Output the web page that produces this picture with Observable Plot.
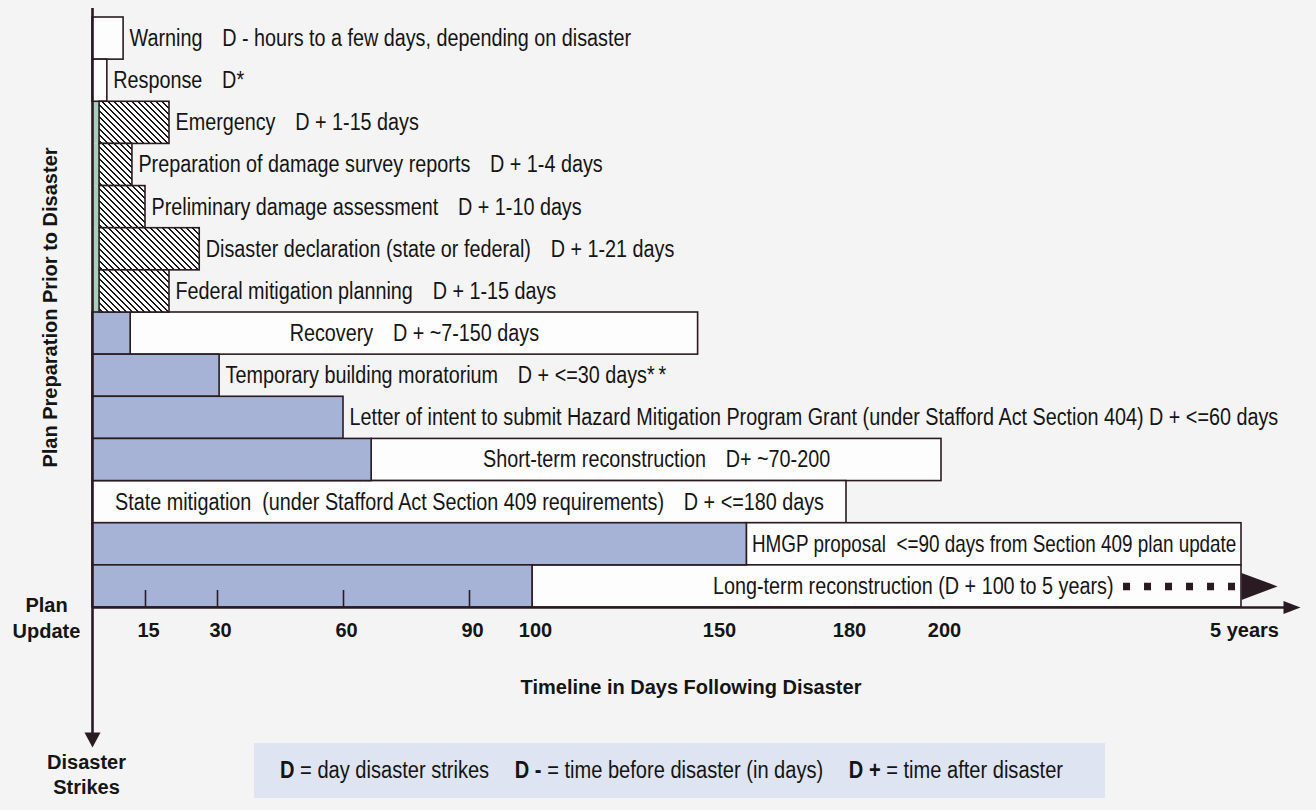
<!DOCTYPE html>
<html>
<head>
<meta charset="utf-8">
<script src="https://cdn.jsdelivr.net/npm/d3@7"></script>
<script src="https://cdn.jsdelivr.net/npm/@observablehq/plot@0.6"></script>
<style>
  html, body { margin: 0; padding: 0; background: #f4f4f4; }
  #wrap { position: relative; width: 1316px; height: 810px; overflow: hidden;
          font-family: "Liberation Sans", Arial, sans-serif; }
  #legend { position: absolute; left: 254px; top: 743px; width: 851px; height: 55px;
            background: #dee4f1; display: flex; align-items: center; box-sizing: border-box;
            padding-left: 26px; font-size: 23px; color: #141414; white-space: pre; overflow: hidden; }
  #legend span { display: inline-block; transform-origin: 0 50%; }
  #legend b { font-weight: bold; }
</style>
</head>
<body>
<div id="wrap"></div>
<script>
// ---------------- data ----------------
const phases = [
  "Warning", "Response", "Emergency", "Preparation of damage survey reports",
  "Preliminary damage assessment", "Disaster declaration", "Federal mitigation planning",
  "Recovery", "Temporary building moratorium", "Letter of intent", "Short-term reconstruction",
  "State mitigation", "HMGP proposal", "Long-term reconstruction"
];
const labels = [
  "Warning\u2003D - hours to a few days, depending on disaster",
  "Response\u2003D*",
  "Emergency\u2003D + 1-15 days",
  "Preparation of damage survey reports\u2003D + 1-4 days",
  "Preliminary damage assessment\u2003D + 1-10 days",
  "Disaster declaration (state or federal)\u2003D + 1-21 days",
  "Federal mitigation planning\u2003D + 1-15 days",
  "Recovery\u2003D + ~7-150 days",
  "Temporary building moratorium\u2003D + <=30 days*\u2009*",
  "Letter of intent to submit Hazard Mitigation Program Grant (under Stafford Act Section 404) D + <=60 days",
  "Short-term reconstruction\u2003D+ ~70-200",
  "State mitigation\u00a0\u00a0(under Stafford Act Section 409 requirements)\u2003D + <=180 days",
  "HMGP proposal\u00a0\u00a0<=90 days from Section 409 plan update",
  "Long-term reconstruction (D + 100 to 5 years)"
];
// where each label sits: after the bar, centred in the open box, or at the box end
const labelPlace = ["after","after","after","after","after","after","after",
                    "center","after","after","center","center","center","end"];
// plan-preparation (blue) bars, from day 0 to planEnd
const planEnd    = [null, null, null, null, null, null, null, 10.8, 30.5, 60, 66.7, null, 157, 100];
// hatched bars
const hatchStart = [null, null, 2, 2, 2, 2, 2, null, null, null, null, null, null, null];
const hatchEnd   = [null, null, 20, 11.3, 15, 26.3, 20, null, null, null, null, null, null, null];
// open (white) boxes
const boxStart   = [0, 0, null, null, null, null, null, 10.8, null, null, 66.7, 0, 157, 100];
const boxEnd     = [8.8, 4.2, null, null, null, null, null, 145, null, null, 200, 180, 1825, 1825];
// continuation dashes of long-term reconstruction
const dashFrom = 1186, dashTo = 1800;

// schematic (piecewise) day axis
const xBreaks   = [0, 15, 30, 60, 90, 100, 150, 180, 200, 1825];
const xPixels   = [92, 145, 217, 343, 469, 532, 716, 846, 941, 1241];
const tickValues = [15, 30, 60, 90, 100, 150, 180, 200, 1825];
const tickLabels = ["15", "30", "60", "90", "100", "150", "180", "200", "5 years"];
const tickMarks  = [15, 30, 60, 90];

const yTitle = "Plan Preparation Prior to Disaster";
const topLabel = "Plan\nUpdate";
const bottomLabel = "Disaster\nStrikes";
const xTitle = "Timeline in Days Following Disaster";

// ---------------- build ----------------
const FONT = '"Liberation Sans", Arial, sans-serif';
const INK = "#2a1b22";
const TXT = "#151515";
const BLUE = "#a6b3d6";
const GREEN = "#a9cfbc";
const BODY = 23;      // row label size (condensed afterwards)
const HEAD = 20;      // bold labels
const NARROW = 0.86;  // horizontal condensing of row labels

const xs = d3.scaleLinear(xBreaks, xPixels);
const rows = phases.map((phase, i) => ({
  phase, i, label: labels[i], place: labelPlace[i],
  plan: planEnd[i], hs: hatchStart[i], he: hatchEnd[i], bs: boxStart[i], be: boxEnd[i]
}));
const afterRows = rows.filter(d => d.place === "after");
const centerRows = rows.filter(d => d.place === "center");
const endRows = rows.filter(d => d.place === "end");
const afterX = d => Math.max(d.plan ?? -1, d.he ?? -1, d.be ?? -1);
const centerX = d => xs.invert((xs(d.bs) + xs(d.be)) / 2);

const downArrow  = {draw(c) { c.moveTo(0, 0); c.lineTo(-8, -15); c.lineTo(8, -15); c.closePath(); }};
const rightArrow = {draw(c) { c.moveTo(0, 0); c.lineTo(-17, -6.5); c.lineTo(-17, 6.5); c.closePath(); }};
const bigArrow   = {draw(c) { c.moveTo(0, -13.5); c.lineTo(36, 0); c.lineTo(0, 13.5); c.closePath(); }};

const chart = Plot.plot({
  width: 1316,
  height: 810,
  marginTop: 17,
  marginBottom: 203,
  marginLeft: 92,
  marginRight: 75,
  x: {type: "linear", domain: xBreaks, range: xPixels, axis: null},
  y: {domain: [0, phases.length], reverse: true, axis: null},
  style: {background: "transparent", fontFamily: FONT, fontSize: "23px", color: TXT, overflow: "visible"},
  marks: [
    // green strip before hatched bars
    Plot.rect(rows.filter(d => d.hs != null), {x1: 0, x2: "hs", y1: "i", y2: d => d.i + 1, fill: GREEN}),
    // open boxes
    Plot.rect(rows.filter(d => d.be != null), {x1: "bs", x2: "be", y1: "i", y2: d => d.i + 1,
      fill: "#fdfdfd", stroke: INK, strokeWidth: 1.6}),
    // plan preparation bars
    Plot.rect(rows.filter(d => d.plan != null), {x1: 0, x2: "plan", y1: "i", y2: d => d.i + 1,
      fill: BLUE, stroke: INK, strokeWidth: 1.6}),
    // hatched bars
    Plot.rect(rows.filter(d => d.he != null), {x1: "hs", x2: "he", y1: "i", y2: d => d.i + 1,
      fill: "url(#hatch)", stroke: INK, strokeWidth: 1.6}),
    // long-term continuation
    Plot.ruleY(endRows, {y: d => d.i + 0.5, x1: dashFrom, x2: dashTo,
      stroke: INK, strokeWidth: 7.5, strokeDasharray: "7,14"}),
    Plot.dot(endRows, {x: "be", y: d => d.i + 0.5, symbol: bigArrow, r: 5, fill: INK, stroke: "none"}),
    // tick marks
    Plot.ruleX(tickMarks, {x: d => d, insetTop: 573, stroke: INK, strokeWidth: 1.6}),
    // axes
    Plot.ruleX([0], {x: d => d, insetTop: -9, insetBottom: -126, stroke: INK, strokeWidth: 2.6}),
    Plot.dot([0], {x: d => d, frameAnchor: "bottom", dy: 140, symbol: downArrow, r: 5, fill: INK, stroke: "none"}),
    Plot.ruleY([phases.length], {y: d => d, x1: 0, x2: 1825, insetRight: -45, stroke: INK, strokeWidth: 2.6}),
    Plot.dot([1825], {x: d => d, frameAnchor: "bottom", dx: 59, symbol: rightArrow, r: 5, fill: INK, stroke: "none"}),
    // row labels
    Plot.text(afterRows, {x: afterX, y: d => d.i + 0.5, text: "label",
      textAnchor: "start", dx: 6, fill: TXT, fontSize: BODY}),
    Plot.text(centerRows, {x: centerX, y: d => d.i + 0.5, text: "label",
      textAnchor: "middle", fill: TXT, fontSize: BODY}),
    Plot.text(endRows, {x: "be", y: d => d.i + 0.5, text: "label",
      textAnchor: "end", dx: -128, fill: TXT, fontSize: BODY}),
    // tick labels
    Plot.text(tickValues, {x: d => d, text: (d, i) => tickLabels[i], frameAnchor: "bottom", dy: 23, dx: 3,
      textAnchor: "middle", lineAnchor: "middle", fontWeight: "bold", fontSize: HEAD, fill: TXT}),
    // titles
    Plot.text([xTitle], {frameAnchor: "bottom", dx: 24, dy: 80, textAnchor: "middle", lineAnchor: "middle",
      fontWeight: "bold", fontSize: HEAD, fill: TXT}),
    Plot.text([yTitle], {frameAnchor: "left", dx: -42, dy: -5, rotate: -90, textAnchor: "middle", lineAnchor: "middle",
      fontWeight: "bold", fontSize: HEAD, fill: TXT}),
    Plot.text([topLabel], {frameAnchor: "bottom-left", dx: -46, dy: 9, textAnchor: "middle", lineAnchor: "middle",
      lineHeight: 1.3, fontWeight: "bold", fontSize: HEAD, fill: TXT}),
    Plot.text([bottomLabel], {frameAnchor: "bottom-left", dx: -6, dy: 166, textAnchor: "middle", lineAnchor: "middle",
      lineHeight: 1.25, fontWeight: "bold", fontSize: HEAD, fill: TXT})
  ]
});

// hatch pattern (pixel staircase diagonals, top-left to bottom-right)
const ns = "http://www.w3.org/2000/svg";
const defs = document.createElementNS(ns, "defs");
let cells = '<rect width="6" height="6" fill="#ffffff"/>';
for (let k = 0; k < 6; k++) {
  cells += `<rect x="${k}" y="${k}" width="1" height="1" fill="#161616"/>`;
  cells += `<rect x="${(k + 1) % 6}" y="${k}" width="1" height="1" fill="#161616"/>`;
}
defs.innerHTML = `<pattern id="hatch" patternUnits="userSpaceOnUse" width="6" height="6" shape-rendering="crispEdges">${cells}</pattern>`;
chart.insertBefore(defs, chart.firstChild);

const wrap = document.getElementById("wrap");
wrap.appendChild(chart);

// condense the row-label font (narrow face look); centred labels are kept inside their box
const groups = chart.querySelectorAll(`g[font-size="${BODY}"]`);
groups.forEach((g, gi) => {
  g.querySelectorAll(":scope > text").forEach((t, j) => {
    let k = NARROW;
    if (gi === 1) {
      const d = centerRows[j];
      const room = xs(d.be) - xs(d.bs) - 10;
      const len = t.getComputedTextLength();
      if (len * k > room) k = room / len;
    }
    const tr = t.getAttribute("transform") || "";
    t.setAttribute("transform", `${tr} scale(${k},1)`);
  });
});

const legend = document.createElement("div");
legend.id = "legend";
const span = document.createElement("span");
span.innerHTML = "<b>D</b> = day disaster strikes\u2003 <b>D -</b> = time before disaster (in days)\u2003 <b>D +</b> = time after disaster";
legend.appendChild(span);
wrap.appendChild(legend);
const natural = span.getBoundingClientRect().width;
span.style.transform = `scaleX(${783 / natural})`;
</script>
</body>
</html>
